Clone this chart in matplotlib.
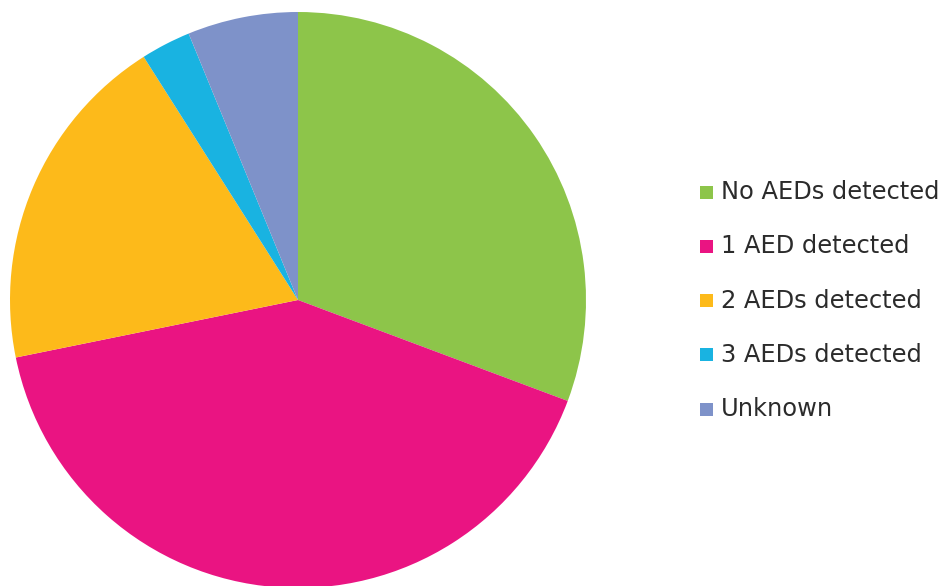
import matplotlib.pyplot as plt
from matplotlib.patches import Rectangle

labels = ['No AEDs detected', '1 AED detected', '2 AEDs detected',
          '3 AEDs detected', 'Unknown']
shares = [30.7, 41.1, 19.2, 2.8, 6.2]
colors = ['#8DC54A', '#EA1482', '#FDBA1A', '#19B3E1', '#7E92C9']

W, H = 948, 586
fig = plt.figure(figsize=(W / 100, H / 100), dpi=100)

# pie centred at (298, 300) px with radius 288 px
cx, cy, r = 298, 300, 288
ax = fig.add_axes([(cx - r) / W, (H - cy - r) / H, 2 * r / W, 2 * r / H])
ax.pie(shares, colors=colors, startangle=90, counterclock=False, radius=1,
       wedgeprops=dict(linewidth=0))
ax.set_xlim(-1, 1)
ax.set_ylim(-1, 1)
ax.set_aspect('equal')
ax.axis('off')

# legend on the right
y0, step = 192, 54.3
for i, (lab, col) in enumerate(zip(labels, colors)):
    y = y0 + i * step
    fig.patches.append(Rectangle(((700) / W, (H - y - 6.5) / H), 13 / W, 13 / H,
                                 transform=fig.transFigure, facecolor=col,
                                 edgecolor='none'))
    fig.text(721 / W, (H - y) / H, lab, fontsize=17.4, family='DejaVu Sans',
             color='#2b2b2b', va='center', ha='left')

fig.savefig('out.png', dpi=100)
